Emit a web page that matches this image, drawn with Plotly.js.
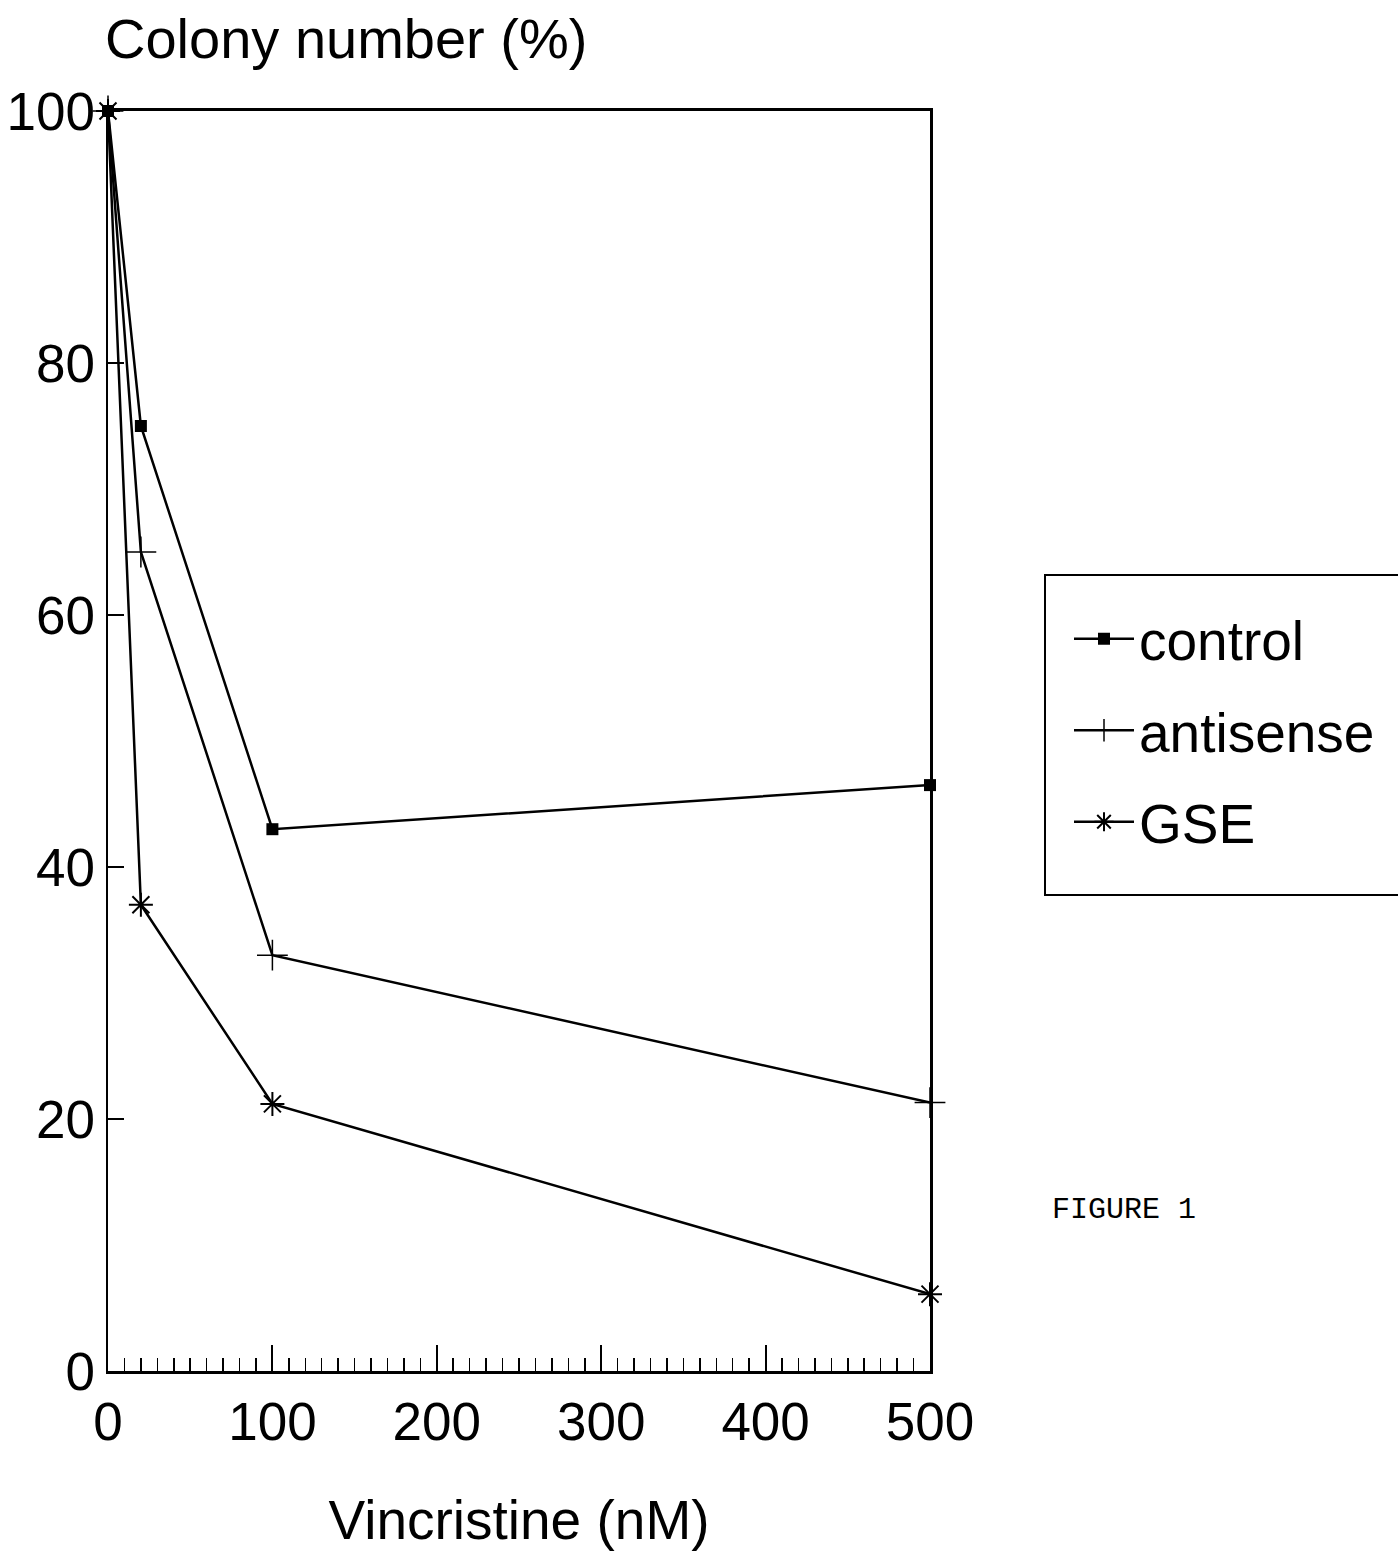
<!DOCTYPE html>
<html>
<head>
<meta charset="utf-8">
<script src="https://cdn.plot.ly/plotly-3.0.1.min.js"></script>
<style>html,body{margin:0;padding:0;background:#fff;}#chart{width:1398px;height:1551px;}</style>
</head>
<body>
<div id="chart"></div>
<script>
const dose = [0, 20, 100, 500];
const controlVals = [100, 75, 43, 46.5];
const antisenseVals = [100, 65, 33, 21.3];
const gseVals = [100, 37, 21.2, 6.1];
const xTicks = [0, 100, 200, 300, 400, 500];
const yTicks = [0, 20, 40, 60, 80, 100];

const FONT = 'Liberation Sans, Arial, Helvetica, sans-serif';
const lineStyle = {color: 'black', width: 2.5};

const traces = [
  {x: dose, y: controlVals, name: 'control', mode: 'lines+markers', legendgroup: 'a',
   line: lineStyle, marker: {symbol: 'square', size: 12, color: 'black'}, cliponaxis: false},
  {x: dose, y: antisenseVals, name: 'antisense', mode: 'lines+markers', legendgroup: 'b',
   line: lineStyle, marker: {symbol: 'cross-thin', size: 22, color: 'black', line: {color: 'black', width: 1.5}}, cliponaxis: false},
  {x: dose, y: gseVals, name: 'GSE', mode: 'lines+markers', legendgroup: 'c',
   line: lineStyle, marker: {symbol: 'asterisk-open', size: 20, color: 'black', line: {color: 'black', width: 2}}, cliponaxis: false}
];

const layout = {
  width: 1398, height: 1551,
  paper_bgcolor: 'white', plot_bgcolor: 'white',
  margin: {l: 108, r: 468, t: 111, b: 180},
  font: {family: FONT, color: 'black', size: 52},
  showlegend: true,
  legend: {
    x: 1.1691, xanchor: 'left', y: 0.6147, yanchor: 'top',
    borderwidth: 0, bgcolor: 'rgba(0,0,0,0)',
    font: {family: FONT, size: 55, color: 'black'},
    tracegroupgap: 17, itemwidth: 60
  },
  shapes: [
    {type: 'rect', xref: 'paper', yref: 'paper',
     x0: (1045 - 108) / 822, x1: (1420 - 108) / 822,
     y0: (1371 - 895) / 1260, y1: (1371 - 575) / 1260,
     line: {color: 'black', width: 2}, fillcolor: 'rgba(0,0,0,0)', layer: 'below'}
  ],
  title: {text: 'Colony number (%)', font: {family: FONT, size: 56, color: 'black'},
          x: 105/1398, xanchor: 'left', xref: 'container', y: 1 - 38/1551, yanchor: 'middle', yref: 'container'},
  xaxis: {
    range: [0, 500], tickvals: xTicks, ticktext: xTicks.map(String),
    showgrid: false, zeroline: false, showline: true, linecolor: 'black', linewidth: 3, mirror: true,
    ticks: 'inside', ticklen: 26, tickwidth: 2, tickcolor: 'black',
    minor: {dtick: 10, ticks: 'inside', ticklen: 13, tickwidth: 1.5, tickcolor: 'black', showgrid: false},
    tickfont: {family: FONT, size: 53, color: 'black'},
    ticklabelstandoff: 2,
    title: {text: 'Vincristine (nM)', font: {family: FONT, size: 55, color: 'black'}, standoff: 54}
  },
  yaxis: {
    range: [0, 100], tickvals: yTicks, ticktext: yTicks.map(String),
    showgrid: false, zeroline: false, showline: true, linecolor: 'black', linewidth: 2.5, mirror: true,
    ticks: 'inside', ticklen: 16, tickwidth: 1.5, tickcolor: 'black',
    tickfont: {family: FONT, size: 53, color: 'black'},
    ticklabelstandoff: 0
  },
  annotations: [
    {text: 'FIGURE 1', xref: 'paper', yref: 'paper', x: (1050 - 108) / 822, y: 0.1278, xanchor: 'left', yanchor: 'middle',
     showarrow: false, font: {family: 'Liberation Mono, Courier New, monospace', size: 30, color: 'black'}}
  ]
};

Plotly.newPlot('chart', traces, layout, {displayModeBar: false, staticPlot: true});
</script>
</body>
</html>
